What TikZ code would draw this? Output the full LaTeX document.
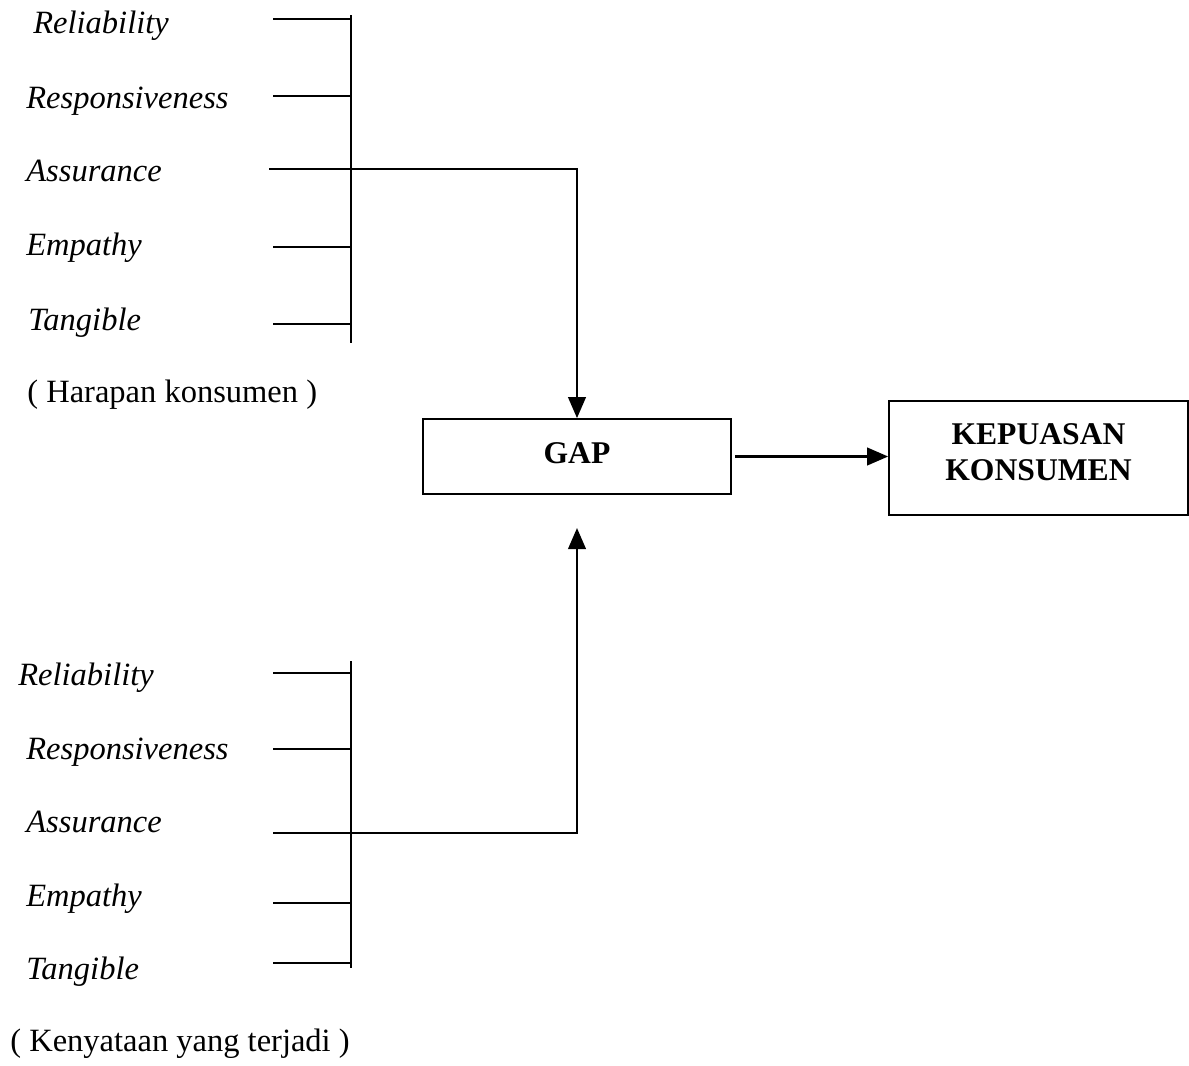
\documentclass[tikz,border=0pt]{standalone}
\usepackage{fontspec}
\setmainfont{Liberation Serif}
\usetikzlibrary{arrows.meta,positioning}

\tikzset{
  lbl/.style={anchor=base west,inner sep=0pt,font=\fontsize{18.5}{22}\selectfont\itshape},
  note/.style={anchor=base west,inner sep=0pt,font=\fontsize{18.5}{22}\selectfont},
  box/.style={draw,line width=1pt,align=center,font=\fontsize{18}{20.5}\selectfont\bfseries},
  wire/.style={line width=1.4pt},
  arr/.style={line width=1.4pt,-{Triangle[length=12pt,width=10pt]}}
}

\begin{document}
\begin{tikzpicture}[x=0.02cm,y=-0.02cm]
\useasboundingbox (0,0) rectangle (1189,1065);

%%% HARAPAN KONSUMEN
\path (33,33) node[lbl] (relA) {Reliability};
\path (26,108) node[lbl] (resA) {Responsiveness};
\path (26,181) node[lbl] (assA) {Assurance};
\path (26,255) node[lbl] (empA) {Empathy};
\path (28,330) node[lbl] (tanA) {Tangible};
\path (27,402) node[note] (harapan) {( Harapan konsumen )};
\coordinate (barAt) at (351,15);
\coordinate (barAb) at (351,343);
\path[draw,wire] (barAt) -- (barAb);
\path[draw,wire] (273,19) -- (barAt |- 0,19);
\path[draw,wire] (273,96) -- (barAt |- 0,96);
\path[draw,wire] (273,247) -- (barAt |- 0,247);
\path[draw,wire] (273,324) -- (barAt |- 0,324);
\coordinate (lineA) at (269,169);

%%% GAP
\path (577,456.5) node[box,minimum width=6.16cm,minimum height=1.5cm,text depth=4pt] (gap) {GAP};
\path (1038.5,458) node[box,minimum width=5.98cm,minimum height=2.28cm,text depth=7pt] (puas) {KEPUASAN\\KONSUMEN};
\path[draw,arr] (lineA) -| (gap.north);
\path[draw,arr,shorten <=2pt] (gap.east) -- (gap.east -| puas.west);

%%% KENYATAAN YANG TERJADI
\path (18,685) node[lbl] (relB) {Reliability};
\path (26,759) node[lbl] (resB) {Responsiveness};
\path (26,832) node[lbl] (assB) {Assurance};
\path (26,906) node[lbl] (empB) {Empathy};
\path (26,979) node[lbl] (tanB) {Tangible};
\path (10,1051) node[note] (kenyataan) {( Kenyataan yang terjadi )};
\coordinate (barBt) at (351,661);
\coordinate (barBb) at (351,968);
\path[draw,wire] (barBt) -- (barBb);
\path[draw,wire] (273,673) -- (barBt |- 0,673);
\path[draw,wire] (273,749) -- (barBt |- 0,749);
\path[draw,wire] (273,903) -- (barBt |- 0,903);
\path[draw,wire] (273,963) -- (barBt |- 0,963);
\coordinate (lineB) at (273,833);
\coordinate (tipB) at (577,528);
\path[draw,arr] (lineB) -| (tipB);
\end{tikzpicture}
\end{document}
